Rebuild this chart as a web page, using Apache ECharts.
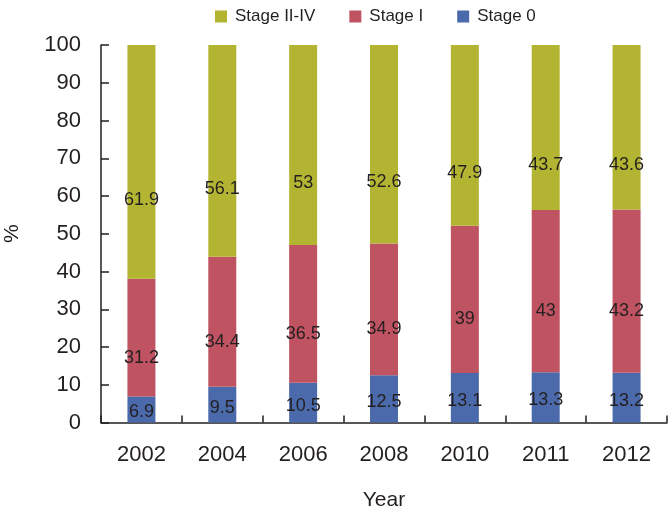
<!DOCTYPE html>
<html><head><meta charset="utf-8">
<script src="https://cdn.jsdelivr.net/npm/echarts@6/dist/echarts.min.js"></script>
<style>html,body{margin:0;padding:0;background:#fff}#c{width:669px;height:511px}</style>
</head><body><div id="c"></div>
<script>
const years = ['2002','2004','2006','2008','2010','2011','2012'];
const stage0 = [6.9, 9.5, 10.5, 12.5, 13.1, 13.3, 13.2];
const stageI = [31.2, 34.4, 36.5, 34.9, 39, 43, 43.2];
const stageII_IV = [61.9, 56.1, 53, 52.6, 47.9, 43.7, 43.6];
const seriesNames = ['Stage 0', 'Stage I', 'Stage II-IV'];

const FONT = '"Liberation Sans", Arial, sans-serif';
const TXT = '#231f20';
const chart = echarts.init(document.getElementById('c'), null, {renderer: 'canvas'});
function lbl(dy) {
  return {show: true, position: 'inside', offset: [0, dy], color: TXT, fontFamily: FONT, fontSize: 18};
}
chart.setOption({
  animation: false,
  backgroundColor: '#fff',
  grid: {left: 101, right: 2, top: 45, bottom: 88.5, containLabel: false, outerBoundsMode: 'none'},
  legend: {
    data: ['Stage II-IV', 'Stage I', 'Stage 0'],
    left: 210, top: 3,
    itemWidth: 12, itemHeight: 12, itemGap: 34,
    icon: 'rect',
    textStyle: {color: TXT, fontFamily: FONT, fontSize: 17, padding: [0, 0, 0, 3]}
  },
  xAxis: {
    type: 'category', data: years,
    name: 'Year', nameLocation: 'middle', nameGap: 67,
    nameTextStyle: {color: TXT, fontFamily: FONT, fontSize: 21},
    axisLine: {lineStyle: {color: TXT, width: 1.5}},
    axisTick: {show: true, inside: true, length: 7, alignWithLabel: false, lineStyle: {color: TXT, width: 1.5}},
    axisLabel: {color: TXT, fontFamily: FONT, fontSize: 22, margin: 21}
  },
  yAxis: {
    type: 'value', min: 0, max: 100, interval: 10,
    name: '%', nameLocation: 'middle', nameGap: 78, nameRotate: 90,
    nameTextStyle: {color: TXT, fontFamily: FONT, fontSize: 21},
    axisLine: {show: true, lineStyle: {color: TXT, width: 1.5}},
    axisTick: {show: true, inside: true, length: 8, lineStyle: {color: TXT, width: 1.5}},
    axisLabel: {color: TXT, fontFamily: FONT, fontSize: 22, margin: 20},
    splitLine: {show: false}
  },
  series: [
    {name: 'Stage 0', type: 'bar', stack: 's', data: stage0, barWidth: 28,
     itemStyle: {color: '#4b6aab'}, label: lbl(3)},
    {name: 'Stage I', type: 'bar', stack: 's', data: stageI, barWidth: 28,
     itemStyle: {color: '#bf5362'}, label: lbl(20)},
    {name: 'Stage II-IV', type: 'bar', stack: 's', data: stageII_IV, barWidth: 28,
     itemStyle: {color: '#b3b532'}, label: lbl(38)}
  ]
});
</script></body></html>
